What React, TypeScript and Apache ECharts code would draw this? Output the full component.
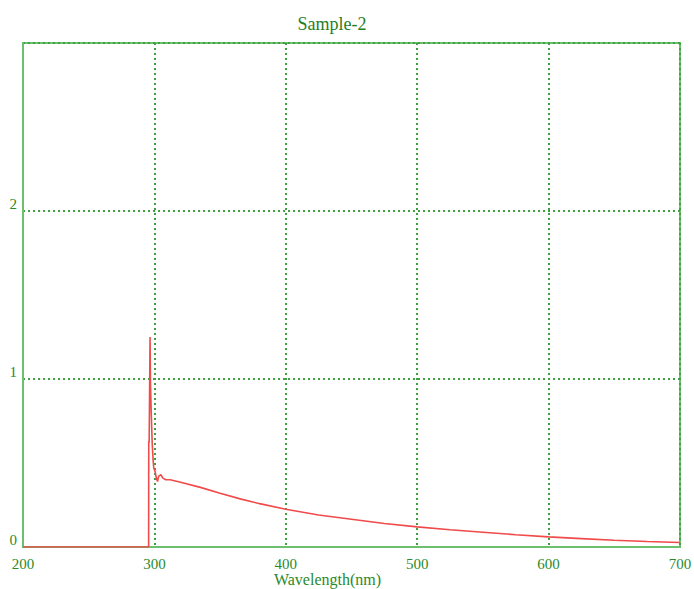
import React, { useEffect, useRef } from "react";
import * as echarts from "echarts";

const title = "Sample-2";
const xName = "Wavelength(nm)";
const wavelengths = [200, 228, 229, 295.6, 295.7, 296, 296.7, 297, 297.6, 298.3, 299, 299.5, 300.5, 301.5, 302.4, 303.2, 304.9, 306.5, 308.7, 312, 320, 335, 350, 366, 380, 400, 425, 450, 475, 500, 525, 550, 575, 600, 625, 650, 675, 700];
const absorbance = [0, 0, 0, 0, 0.63, 0.62, 1.25, 0.98, 0.8, 0.62, 0.52, 0.47, 0.45, 0.41, 0.39, 0.42, 0.43, 0.41, 0.40, 0.40, 0.385, 0.355, 0.32, 0.285, 0.258, 0.225, 0.19, 0.165, 0.14, 0.12, 0.103, 0.088, 0.073, 0.06, 0.05, 0.04, 0.033, 0.027];
const xTicks = { min: 200, max: 700, interval: 100 };
const yTicks = { min: 0, max: 3, interval: 1 };

export default function App() {
  const ref = useRef<HTMLDivElement>(null);
  useEffect(() => {
    if (!ref.current) return;
    const chart = echarts.init(ref.current, null, { renderer: "svg" });
    const font = "'Liberation Serif', 'Times New Roman', serif";
    const green = "#2a8a2a";
    const frame = "#6cbf6c";
    const grid = "#3fa03f";
    chart.setOption({
      animation: false,
      backgroundColor: "#ffffff",
      title: {
        text: title,
        left: 327,
        textAlign: "center",
        top: 10,
        textStyle: { fontFamily: font, fontSize: 18, fontWeight: "normal", color: "#1f7f1f" },
      },
      grid: {
        left: 23,
        right: 14,
        top: 43,
        bottom: 42,
        show: true,
        borderColor: frame,
        borderWidth: 2,
        backgroundColor: "transparent",
        outerBoundsMode: "none",
        containLabel: false,
      },
      xAxis: {
        type: "value",
        min: xTicks.min,
        max: xTicks.max,
        interval: xTicks.interval,
        name: xName,
        nameLocation: "middle",
        nameGap: 24,
        nameMoveOverlap: false,
        nameTextStyle: { fontFamily: font, fontSize: 16, color: green, padding: [0, 48, 0, 0] },
        axisLine: { show: true, lineStyle: { color: frame, width: 2 } },
        axisTick: { show: false },
        axisLabel: { fontFamily: font, fontSize: 15, color: green, margin: 9 },
        splitLine: { show: true, lineStyle: { color: grid, width: 2, type: [2, 3] } },
      },
      yAxis: {
        type: "value",
        min: yTicks.min,
        max: yTicks.max,
        interval: yTicks.interval,
        axisLine: { show: true, lineStyle: { color: frame, width: 2 } },
        axisTick: { show: false },
        axisLabel: {
          fontFamily: font,
          fontSize: 15,
          color: green,
          margin: 6,
          verticalAlign: "bottom",
          formatter: (v: number) => (v === 3 ? "" : String(v)),
        },
        splitLine: { show: true, lineStyle: { color: grid, width: 2, type: [2, 3] } },
      },
      series: [
        {
          type: "line",
          data: wavelengths.map((w, i) => [w, absorbance[i]]),
          showSymbol: false,
          symbol: "none",
          lineStyle: { color: "#f04a4a", width: 1.6 },
        },
      ],
    });
    return () => chart.dispose();
  }, []);
  return <div ref={ref} style={{ position: "fixed", left: 0, top: 0, width: 694, height: 589 }} />;
}
